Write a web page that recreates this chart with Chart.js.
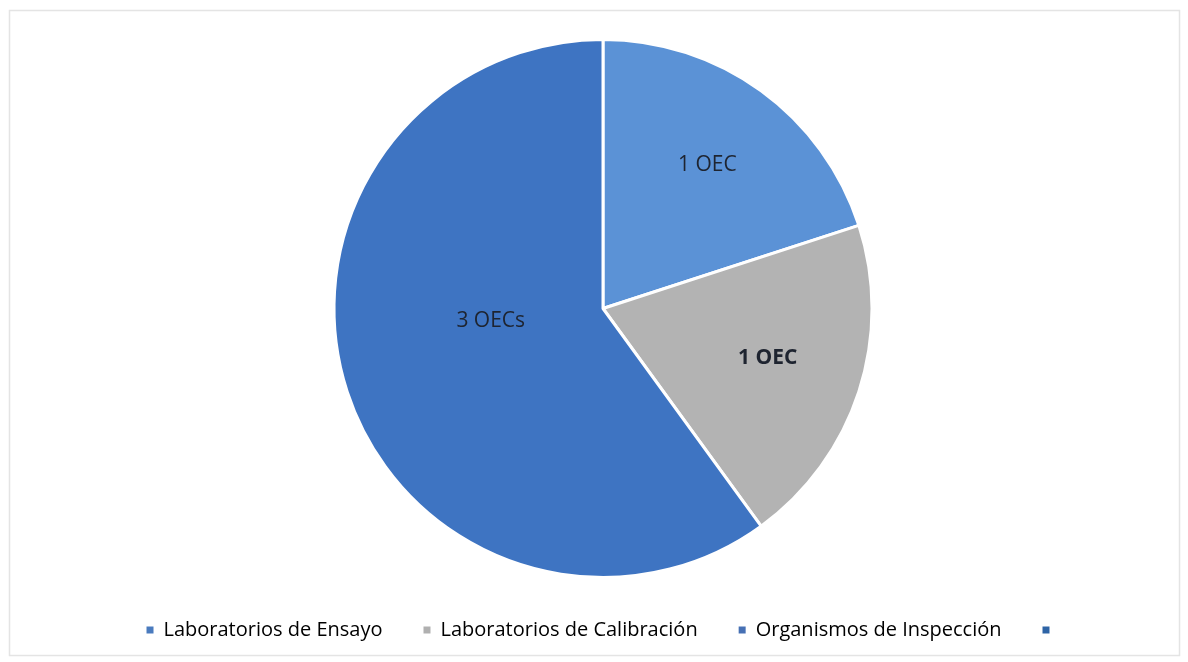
<!DOCTYPE html>
<html>
<head>
<meta charset="utf-8">
<script src="https://cdn.jsdelivr.net/npm/chart.js@4.4.1/dist/chart.umd.min.js"></script>
<style>
html,body{margin:0;padding:0;background:#fff;}
#wrap{width:1188px;height:662px;position:relative;}
</style>
</head>
<body>
<div id="wrap"><canvas id="c" width="1188" height="662"></canvas></div>
<script>
const categories = ["Laboratorios de Ensayo", "Laboratorios de Calibración", "Organismos de Inspección", ""];
const values = [1, 1, 3, 0];
const sliceLabels = ["1 OEC", "1 OEC", "3 OECs", ""];

const sliceColors = ["#5B92D6", "#B3B3B3", "#3E74C2", "#2E64A6"];
const legendColors = ["#4A7BBE", "#B0B0B0", "#4670B4", "#2E64A6"];
const labelStyle = [
  {r: 0.66, da: 0, bold: false},
  {r: 0.64, da: -0.02, bold: true},
  {r: 0.42, da: 0.2, bold: false},
  {r: 0, da: 0, bold: false}
];

const framePlugin = {
  id: 'frame',
  beforeDraw(chart) {
    const ctx = chart.ctx;
    ctx.save();
    ctx.fillStyle = '#fff';
    ctx.fillRect(0, 0, chart.width, chart.height);
    ctx.strokeStyle = '#e4e4e4';
    ctx.lineWidth = 1.5;
    ctx.strokeRect(9.5, 10.5, 1170, 645);
    ctx.restore();
  }
};

const sliceLabelPlugin = {
  id: 'sliceLabels',
  afterDatasetsDraw(chart) {
    const ctx = chart.ctx;
    const meta = chart.getDatasetMeta(0);
    meta.data.forEach((arc, i) => {
      const txt = sliceLabels[i];
      if (!txt) return;
      const p = arc.getProps(['x', 'y', 'startAngle', 'endAngle', 'outerRadius'], true);
      const st = labelStyle[i];
      const mid = (p.startAngle + p.endAngle) / 2 + st.da;
      const d = p.outerRadius * st.r;
      const x = p.x + Math.cos(mid) * d;
      const y = p.y + Math.sin(mid) * d;
      ctx.save();
      ctx.font = (st.bold ? 'bold ' : '') + '21px "Open Sans", sans-serif';
      ctx.fillStyle = '#1e2430';
      ctx.textAlign = 'center';
      ctx.textBaseline = 'middle';
      ctx.fillText(txt, x, y);
      ctx.restore();
    });
  }
};

new Chart(document.getElementById('c'), {
  type: 'pie',
  data: {
    labels: categories,
    datasets: [{
      data: values,
      backgroundColor: sliceColors,
      borderColor: '#ffffff',
      borderWidth: [3, 3, 3, 0]
    }]
  },
  options: {
    responsive: false,
    animation: false,
    events: [],
    layout: {padding: {top: 38, bottom: 12, left: 18, right: 0}},
    plugins: {
      tooltip: {enabled: false},
      legend: {
        position: 'bottom',
        labels: {
          boxWidth: 7,
          boxHeight: 7,
          padding: 41,
          color: '#222222',
          font: {family: '"Open Sans", sans-serif', size: 20},
          generateLabels(chart) {
            return categories.map((c, i) => ({
              text: c,
              fillStyle: legendColors[i],
              strokeStyle: legendColors[i],
              lineWidth: 0,
              hidden: false,
              index: i
            }));
          }
        }
      }
    }
  },
  plugins: [framePlugin, sliceLabelPlugin]
});
</script>
</body>
</html>
